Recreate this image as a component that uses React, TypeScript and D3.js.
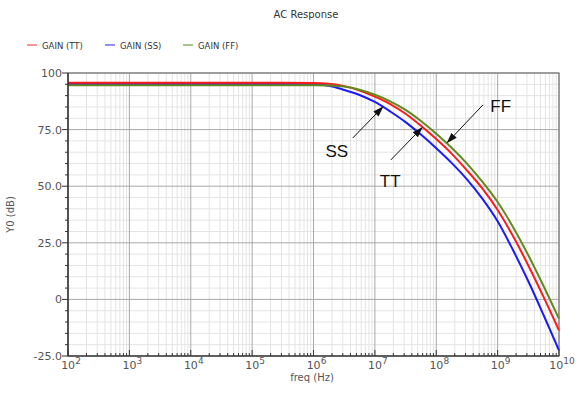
import React from "react";
import * as d3 from "d3";

// ---------- data ----------
const freqExp = [2, 3, 4, 5, 5.5, 6, 6.25, 6.5, 6.75, 7, 7.25, 7.5, 7.75, 8, 8.25, 8.5, 8.75, 9, 9.25, 9.5, 9.75, 10];
const gainTT = [95.7, 95.7, 95.7, 95.7, 95.7, 95.6, 95.2, 94.2, 92.3, 89.6, 86.3, 82.0, 76.7, 70.8, 64.4, 57.0, 49.0, 39.5, 28.0, 15.0, 1.0, -13.7];
const gainSS = [95.1, 95.1, 95.1, 95.1, 95.1, 95.0, 94.4, 92.5, 90.3, 87.2, 83.0, 78.3, 72.8, 66.8, 60.3, 53.0, 44.5, 34.5, 21.8, 8.0, -7.0, -22.5];
const gainFF = [94.6, 94.6, 94.6, 94.6, 94.6, 94.6, 94.5, 94.0, 92.6, 90.4, 87.5, 83.7, 78.8, 73.2, 67.0, 60.0, 52.0, 43.0, 32.0, 19.5, 5.8, -8.5];

const seriesNames = ["GAIN (TT)", "GAIN (SS)", "GAIN (FF)"];
const seriesColors = ["#ff1a1a", "#1a1aff", "#5f8a1e"];
const legendColors = ["#f07070", "#6a6af0", "#8fb060"];

const xTickExp = [2, 3, 4, 5, 6, 7, 8, 9, 10];
const yTicks = [-25, 0, 25, 50, 75, 100];
const yTickLabels = ["-25.0", "0", "25.0", "50.0", "75.0", "100"];

// annotations in data coordinates
const annLabels = ["SS", "TT", "FF"];
const annText = [[6.38, 62.9], [7.25, 49.6], [9.05, 82.8]];
const annFrom = [[6.64, 71.3], [7.26, 61.6], [8.76, 85.9]];
const annTip = [[7.13, 85.0], [7.77, 75.9], [8.18, 69.3]];

const W = 582, H = 394;
const M = { left: 68, right: 23, top: 73, bottom: 38 };

export default function App() {
  const x = d3.scaleLog().domain([1e2, 1e10]).range([M.left, W - M.right]);
  const y = d3.scaleLinear().domain([-25, 100]).range([H - M.bottom, M.top]);
  const x0 = M.left, x1 = W - M.right, y0 = H - M.bottom, y1 = M.top;

  const freqs = freqExp.map((e) => Math.pow(10, e));
  const series = [gainTT, gainSS, gainFF];
  const line = d3
    .line<number>()
    .x((_, i) => x(freqs[i]))
    .y((d) => y(d))
    .curve(d3.curveMonotoneX);

  const minorX: number[] = [];
  for (let e = 2; e < 10; e++) for (let k = 2; k <= 9; k++) minorX.push(k * Math.pow(10, e));
  const minorY: number[] = [];
  for (let v = -25; v < 100; v += 5) if (!yTicks.includes(v)) minorY.push(v);

  const font = "'DejaVu Sans', Verdana, sans-serif";
  const order = [1, 0, 2];

  return (
    <svg width={W} height={H} style={{ position: "absolute", left: 0, top: 0, background: "#fff" }}>
      <defs>
        <marker id="ah" viewBox="0 0 12 10" refX="11" refY="5" markerWidth="11" markerHeight="9" orient="auto" markerUnits="userSpaceOnUse">
          <path d="M0,1 L12,5 L0,9 Z" fill="#111" />
        </marker>
      </defs>
      <rect x={0} y={0} width={W} height={H} fill="#fff" />
      <text x={306} y={18} textAnchor="middle" fontFamily={font} fontSize={10} fill="#333">
        AC Response
      </text>
      {seriesNames.map((n, i) => {
        const lx = [27, 105, 183][i];
        return (
          <g key={n}>
            <line x1={lx} x2={lx + 10} y1={45} y2={45} stroke={legendColors[i]} strokeWidth={1.5} />
            <text x={lx + 15} y={48.5} fontFamily={font} fontSize={8.5} fill="#333">
              {n}
            </text>
          </g>
        );
      })}
      {minorX.map((f, i) => (
        <line key={"mx" + i} x1={x(f)} x2={x(f)} y1={y1} y2={y0} stroke="#e4e4e4" strokeWidth={1} />
      ))}
      {minorY.map((v, i) => (
        <line key={"my" + i} x1={x0} x2={x1} y1={y(v)} y2={y(v)} stroke="#e4e4e4" strokeWidth={1} />
      ))}
      {xTickExp.map((e) => (
        <line key={"gx" + e} x1={x(Math.pow(10, e))} x2={x(Math.pow(10, e))} y1={y1} y2={y0} stroke="#a8a8a8" strokeWidth={1} />
      ))}
      {yTicks.map((v) => (
        <line key={"gy" + v} x1={x0} x2={x1} y1={y(v)} y2={y(v)} stroke="#a8a8a8" strokeWidth={1} />
      ))}
      <rect x={x0} y={y1} width={x1 - x0} height={y0 - y1} fill="none" stroke="#808080" strokeWidth={1.3} />
      {order.map((i) => (
        <path key={"s" + i} d={line(series[i]) || ""} fill="none" stroke={seriesColors[i]} strokeWidth={2} />
      ))}
      <line x1={x0} x2={x1} y1={y0} y2={y0} stroke="#222" strokeWidth={1.2} />
      <line x1={x0} x2={x0} y1={y1} y2={y0} stroke="#222" strokeWidth={1.2} />
      {minorX.map((f, i) => (
        <line key={"tx" + i} x1={x(f)} x2={x(f)} y1={y0} y2={y0 - 3} stroke="#333" strokeWidth={1} />
      ))}
      {xTickExp.map((e) => (
        <line key={"tX" + e} x1={x(Math.pow(10, e))} x2={x(Math.pow(10, e))} y1={y0} y2={y0 - 6} stroke="#333" strokeWidth={1} />
      ))}
      {minorY.map((v, i) => (
        <line key={"ty" + i} x1={x0 - 3} x2={x0} y1={y(v)} y2={y(v)} stroke="#333" strokeWidth={1} />
      ))}
      {yTicks.map((v) => (
        <line key={"tY" + v} x1={x0 - 6} x2={x0} y1={y(v)} y2={y(v)} stroke="#333" strokeWidth={1} />
      ))}
      {yTicks.map((v, i) => (
        <text key={"ly" + v} x={x0 - 6} y={y(v) + 4} textAnchor="end" fontFamily={font} fontSize={11} fill="#555">
          {yTickLabels[i]}
        </text>
      ))}
      {xTickExp.map((e) => (
        <text key={"lx" + e} x={x(Math.pow(10, e)) + 3} y={y0 + 13} textAnchor="middle" fontFamily={font} fontSize={11} fill="#555">
          10
          <tspan dy={-5} fontSize={9}>
            {e}
          </tspan>
        </text>
      ))}
      <text x={312} y={y0 + 25} textAnchor="middle" fontFamily={font} fontSize={10} fill="#555">
        freq (Hz)
      </text>
      <text
        transform={`translate(14, ${(y0 + y1) / 2}) rotate(-90)`}
        textAnchor="middle"
        fontFamily={font}
        fontSize={10}
        fill="#555"
      >
        Y0 (dB)
      </text>
      {annLabels.map((l, i) => (
        <g key={"a" + l}>
          <line
            x1={x(Math.pow(10, annFrom[i][0]))}
            y1={y(annFrom[i][1])}
            x2={x(Math.pow(10, annTip[i][0]))}
            y2={y(annTip[i][1])}
            stroke="#111"
            strokeWidth={1}
            markerEnd="url(#ah)"
          />
          <text
            x={x(Math.pow(10, annText[i][0]))}
            y={y(annText[i][1])}
            textAnchor="middle"
            fontFamily="'Liberation Sans', Arial, sans-serif"
            fontSize={17}
            fill="#111"
          >
            {l}
          </text>
        </g>
      ))}
    </svg>
  );
}
